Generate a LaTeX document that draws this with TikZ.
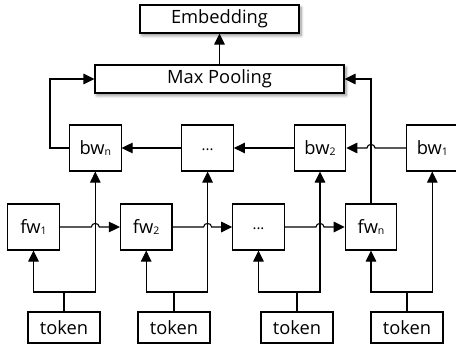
\documentclass[tikz,border=0pt]{standalone}
\usepackage{fontspec}
\setmainfont{Open Sans}
\usetikzlibrary{arrows.meta,shadows.blur}

\newcommand{\lowsub}[1]{\raisebox{-0.8pt}{\fontsize{10.5}{10.5}\selectfont #1}}
\newcommand{\celldots}{\raisebox{-5pt}{\fontsize{15}{15}\selectfont ...}}

\tikzset{
  box/.style={draw, line width=1.1pt, fill=white, inner sep=0pt,
    font=\fontsize{18.3}{20}\selectfont},
  cell/.style={box, minimum width=51.5pt, minimum height=46pt},
  tok/.style={box, minimum width=72pt, minimum height=31pt},
  wide/.style={box, minimum height=28pt,
    blur shadow={shadow xshift=2pt, shadow yshift=-2.5pt, shadow blur steps=6,
      shadow blur radius=3pt, shadow opacity=45}},
  link/.style={line width=1.1pt},
  arr/.style={link, -{Triangle[length=11pt,width=10.5pt]}},
}

\begin{document}
\begin{tikzpicture}[x=1pt,y=-1pt]
\useasboundingbox (0,0) rectangle (456,348);

% top: pooling and output embedding
\node[wide, minimum width=159pt] (emb)  at (219.5,19) {Embedding};
\node[wide, minimum width=249pt] (pool) at (219.5,79) {Max Pooling};

% backward cells
\node[cell] (bwn) at (95.3,148)  {bw\lowsub{n}};
\node[cell] (bwd) at (207.6,148) {\celldots};
\node[cell] (bw2) at (320,148)   {bw\lowsub{2}};
\node[cell] (bw1) at (432.3,148) {bw\lowsub{1}};

% forward cells
\node[cell] (fw1) at (33.5,227)  {fw\lowsub{1}};
\node[cell] (fw2) at (146.2,227) {fw\lowsub{2}};
\node[cell] (fwd) at (258.5,227) {\celldots};
\node[cell] (fwn) at (371,227)   {fw\lowsub{n}};

% input tokens
\node[tok] (t1) at (64,327.5)    {token};
\node[tok] (t2) at (174,327.5)   {token};
\node[tok] (t3) at (297,327.5)   {token};
\node[tok] (t4) at (407,327.5)   {token};

\coordinate (split) at (0,292);
\coordinate (left)  at (50,148);

% each token feeds one forward and one backward cell
\foreach \t/\f/\b in {t1/fw1/bwn, t2/fw2/bwd, t3/fwd/bw2, t4/fwn/bw1}{
  \draw[link] (\t.north) -- (\t.north |- split);
  \draw[arr] (\t.north |- split) -| (\f.south);
  \draw[arr] (\t.north |- split) -| (\b.south);
}

% forward chain, hopping over the backward inputs
\foreach \a/\b/\x in {fw1/fw2/bwn, fw2/fwd/bwd, fwd/fwn/bw2}{
  \draw[arr] (\a.east) -- ([xshift=-4pt]\x.south |- \a.east)
    .. controls +(0,-4.7) and +(0,-4.7) .. ([xshift=4pt]\x.south |- \a.east)
    -- (\b.west);
}

% backward chain
\draw[arr] (bw1.west) -- ([xshift=4pt]fwn.north |- bw1.west)
  .. controls +(0,-4.7) and +(0,-4.7) .. ([xshift=-4pt]fwn.north |- bw1.west)
  -- (bw2.east);
\draw[arr] (bw2.west) -- (bwd.east);
\draw[arr] (bwd.west) -- (bwn.east);

% final states into pooling
\draw[arr] (fwn.north) |- (pool.east);
\draw[arr] (bwn.west) -- (left) |- (pool.west);
\draw[arr] (pool.north) -- (emb.south);
\end{tikzpicture}
\end{document}
